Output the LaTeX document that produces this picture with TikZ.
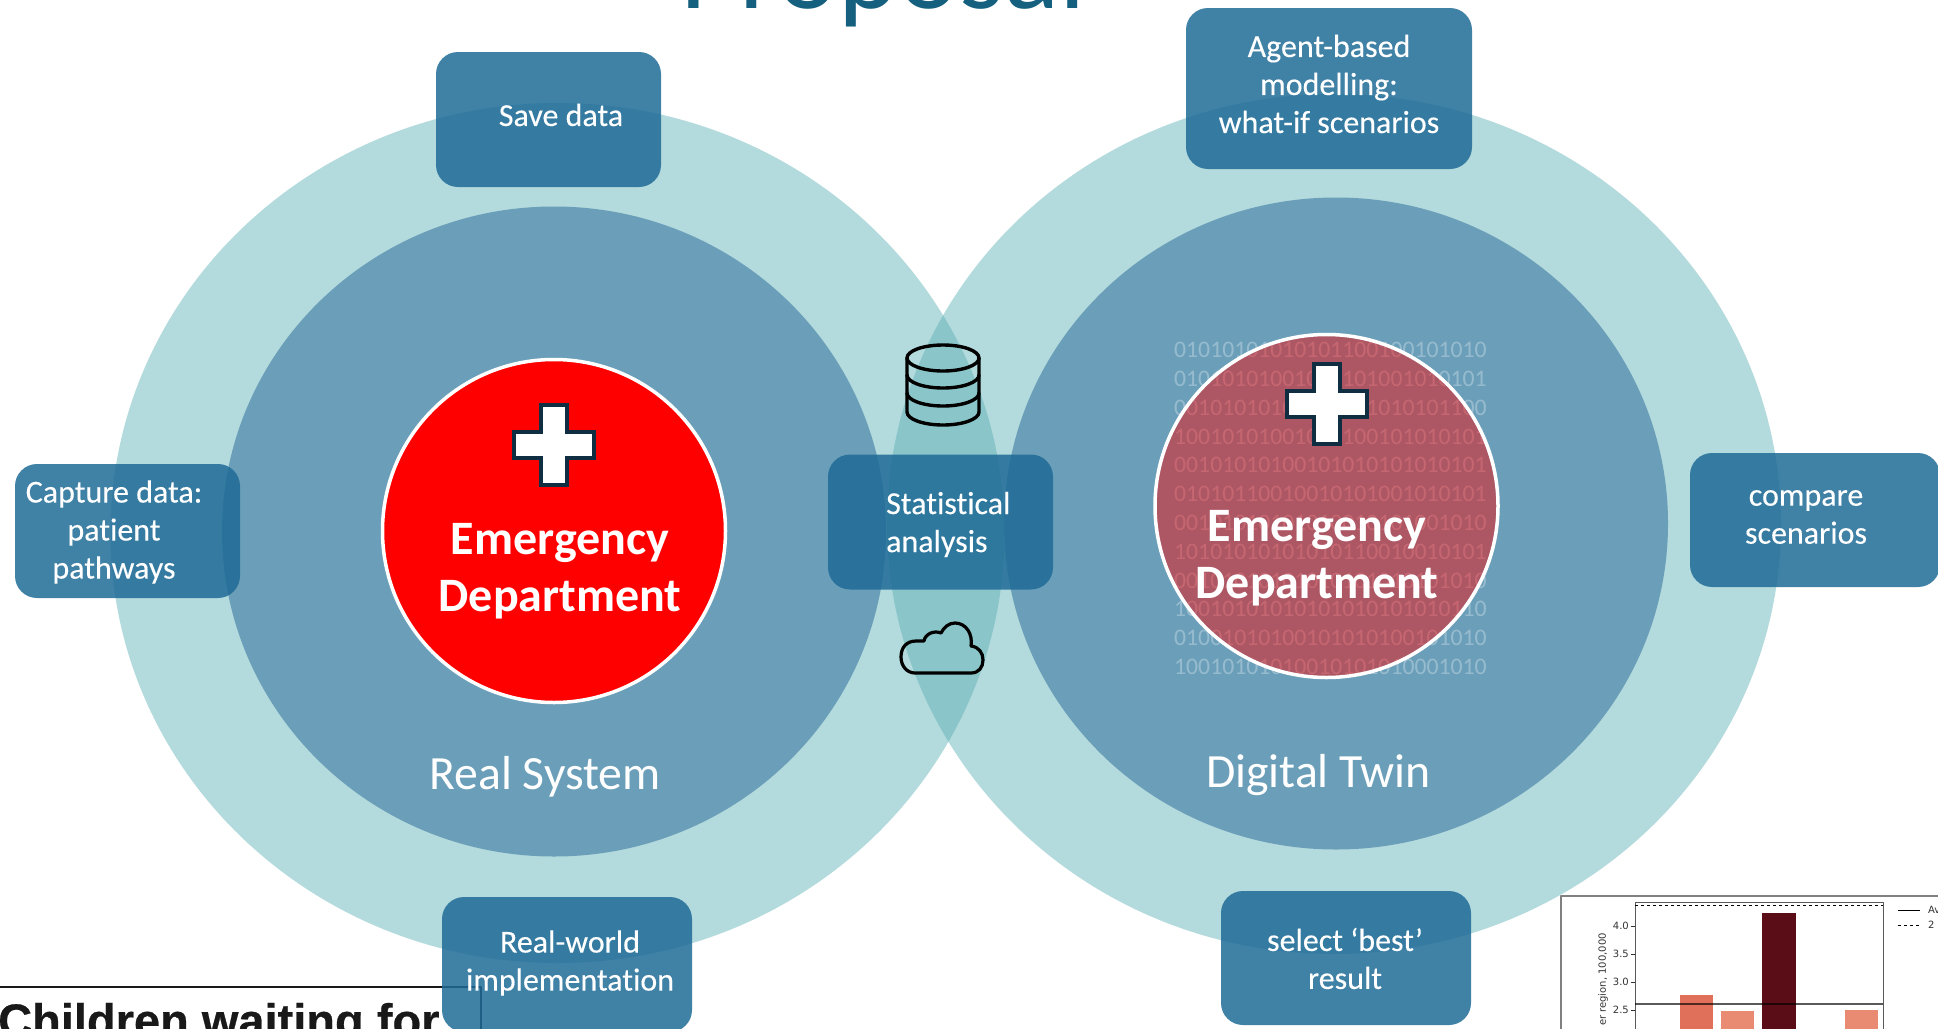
\documentclass[tikz,border=0pt]{standalone}
\usepackage{fontspec}
\setmainfont[Ligatures=NoCommon]{Carlito}
\newfontfamily\chartfont{DejaVu Sans}
\newfontfamily\newsfont[BoldFeatures={FakeBold=0.5}]{Liberation Sans}
\newfontfamily\boxfont[Ligatures=NoCommon,FakeBold=0.2]{Carlito}
\definecolor{ringteal}{HTML}{5AAFB3}
\definecolor{innerblue}{HTML}{6B9FB9}
\definecolor{boxblue}{HTML}{1F6B97}
\definecolor{titleblue}{HTML}{15607F}
\definecolor{crossdark}{HTML}{0F2E42}
\definecolor{barmid}{HTML}{E0705A}
\definecolor{barlight}{HTML}{E98B72}
\definecolor{bardark}{HTML}{5A0C17}
\tikzset{
	stepbox/.style={fill=boxblue,fill opacity=.85,rounded corners=22pt,inner sep=0,minimum width=#1},
	boxtext/.style={text=white,align=center,inner sep=0,font=\boxfont\fontsize{32}{38}\selectfont},
	bigtext/.style={text=white,inner sep=0,font=\fontsize{47.7}{57}\selectfont},
	edtext/.style={text=white,align=center,inner sep=0,font=\fontsize{48}{57}\selectfont\bfseries},
	bits/.style={text=white,text opacity=.3,inner sep=0,anchor=west,font=\fontsize{23.7}{28}\selectfont},
	ticktext/.style={text=black!80,inner sep=0,font=\chartfont\fontsize{10}{12}\selectfont},
}
\begin{document}
\begin{tikzpicture}[x=1pt,y=-1pt,>=stealth, line join=round, line cap=round]
	\path[use as bounding box,clip] (0,0) rectangle (1938,1028);
	\fill[white] (0,0) rectangle (1938,1028);
	% title, cut by the top edge
	\node[text=titleblue,inner sep=0,anchor=base,font=\fontsize{115}{120}\selectfont] (title) at (883,8) {Proposal};
	% the two rings
	\fill[ringteal,opacity=.46] (557.5,533) ellipse [x radius=447pt,y radius=430pt];
	\fill[ringteal,opacity=.46] (1334,524) ellipse [x radius=447pt,y radius=430pt];
	\fill[innerblue] (554,531.5) ellipse [x radius=332pt,y radius=325pt];
	\fill[innerblue] (1336,523.5) ellipse [x radius=332pt,y radius=326pt];
	% binary digits behind the twin
	\foreach \s [count=\i] in {01010101010101100100101010,01010101001010101001010101,00101010101010101010101100,10010101001010100101010101,00101010100101010101010101,01010110010010101001010101,00101010101010010101001010,10101010101010110010010101,00101010101010101010101010,10010101010101010101010110,01001010100101010100101010,10010101010010101010001010}{
		\node[bits] (bit\i) at (1174,{350+28.8*(\i-1)}) {\s};
	}
	\fill[red,opacity=.45] (1326.5,506) circle [radius=171.5pt];
	\draw[white,line width=3.5pt] (1326.5,506) circle [radius=171.5pt];
	\fill[red] (554,531) circle [radius=171.5pt];
	\draw[white,line width=3.5pt] (554,531) circle [radius=171.5pt];
	% white cross on both departments
	\foreach \cx/\cy in {554/445,1327/404}{
		\draw[fill=white,draw=crossdark,line width=3.5pt,line join=miter]
		(\cx-13,\cy-40)--(\cx+13,\cy-40)--(\cx+13,\cy-13)--(\cx+40,\cy-13)--(\cx+40,\cy+13)--(\cx+13,\cy+13)
		--(\cx+13,\cy+40)--(\cx-13,\cy+40)--(\cx-13,\cy+13)--(\cx-40,\cy+13)--(\cx-40,\cy-13)--(\cx-13,\cy-13)--cycle;
	}
	% newspaper cutting, bottom left
	\coordinate (rulestart) at (0,987);
	\coordinate (rulecorner) at (481,987);
	\coordinate (ruleend) at (481,1030);
	\draw[black!90,line width=1.6pt,line cap=butt] (rulestart)--(rulecorner)--(ruleend);
	\node[text=black!90,inner sep=0,anchor=base west,font=\newsfont\bfseries\fontsize{47}{50}\selectfont] (news) at (-2,1037) {Children waiting for};
	% boxes
	\node[stepbox=225pt,minimum height=135pt] (savebox) at (548.5,119.5) {};
	\node[stepbox=286pt,minimum height=161pt] (agentbox) at (1329,88.5) {};
	\node[stepbox=225pt,minimum height=134pt] (capturebox) at (127.5,531) {};
	\node[stepbox=225pt,minimum height=135pt] (statbox) at (940.5,522) {};
	\node[stepbox=250pt,minimum height=134pt] (comparebox) at (1815,520) {};
	\node[stepbox=250pt,minimum height=135pt] (realbox) at (567,964.5) {};
	\node[stepbox=250pt,minimum height=134pt] (selectbox) at (1346,958) {};
	\node[boxtext] (savetext) at (561,115) {Save data};
	\node[boxtext] (agenttext) at (1329,84) {Agent-based\\modelling:\\what-if scenarios};
	\node[boxtext] (capturetext) at (114,532) {Capture data:\\patient\\pathways};
	\node[boxtext,align=left,anchor=west] (stattext) at (886,524.5) {Statistical\\analysis};
	\node[boxtext] (comparetext) at (1806,517) {compare\\scenarios};
	\node[boxtext] (realtext) at (570,963) {Real-world\\implementation};
	\node[boxtext] (selecttext) at (1345,958.5) {select ‘best’\\result};
	% circle captions
	\node[bigtext] (realsystem) at (545,776.5) {Real System};
	\node[bigtext] (digitaltwin) at (1318.5,775.5) {Digital Twin};
	\node[edtext] (edreal) at (560,571) {Emergency\\Department};
	\node[edtext] (edtwin) at (1317,558) {Emergency\\Department};
	% database
	\draw[black,line width=3.4pt] (943,358) ellipse [x radius=36pt,y radius=13pt];
	\draw[black,line width=3.4pt] (907,358)--(907,412) arc (180:0:36 and 13)--(979,358);
	\draw[black,line width=3.4pt] (907,375) arc (180:0:36 and 13);
	\draw[black,line width=3.4pt] (907,393) arc (180:0:36 and 13);
	% cloud
	\draw[black,line width=3.2pt] (915,673) .. controls (907,673) and (901,666) .. (901,657)
	.. controls (901,648) and (906,641) .. (916,641)
	.. controls (921,641) and (923,641) .. (924,641)
	.. controls (925,634) and (934,630) .. (941,633)
	.. controls (944,627) and (949,623) .. (955,623)
	.. controls (966,623) and (973,634) .. (971,646)
	.. controls (979,647) and (983,653) .. (983,660)
	.. controls (983,667) and (979,673) .. (971,673)--cycle;
	% chart, bottom right
	\draw[fill=white,draw=black!50,line width=2.6pt,line cap=butt] (1561,1040)--(1561,896)--(1950,896)--(1950,1040)--cycle;
	\fill[barmid] (1680,995) rectangle (1713,1040);
	\fill[barlight] (1721,1011) rectangle (1754,1040);
	\fill[bardark] (1762,913) rectangle (1796,1040);
	\fill[barlight] (1845,1010) rectangle (1878,1040);
	\draw[black!65,line width=1pt] (1635,1040)--(1635,902)--(1883,902)--(1883,1040);
	\draw[black,line width=1pt,dashed,line cap=butt] (1635,905)--(1883,905);
	\draw[black,opacity=.65,line width=1.2pt,line cap=butt] (1635,1004)--(1883,1004);
	\foreach \y/\t in {926/4.0,954/3.5,982/3.0,1010/2.5}{
		\draw[black!80,line width=.8pt,line cap=butt] (1631,\y)--(1635,\y);
		\node[ticktext,anchor=east] (tick\t) at (1629,\y) {\t};
	}
	\node[ticktext,rotate=90,anchor=east] (ylabel) at (1603,933) {er region, 100,000};
	\draw[black,line width=1pt,line cap=butt] (1898,910)--(1920,910);
	\draw[black,line width=1pt,dashed,line cap=butt] (1898,925)--(1920,925);
	\node[ticktext,anchor=west] (legendone) at (1928,910) {Av};
	\node[ticktext,anchor=west] (legendtwo) at (1928,925) {2};
\end{tikzpicture}
\end{document}
